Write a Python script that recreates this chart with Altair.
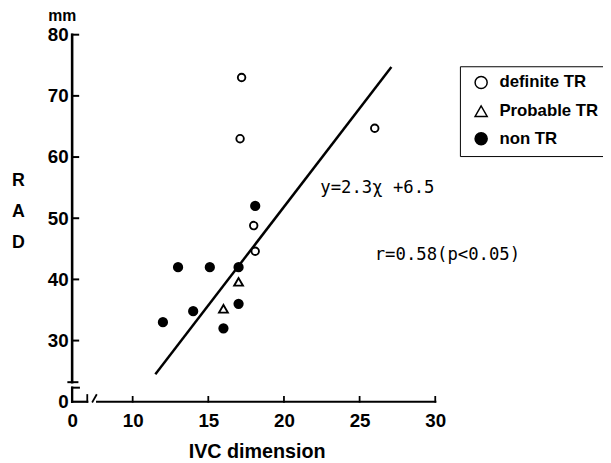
import altair as alt
import pandas as pd

# ---------------- data ----------------
groups = ["definite TR", "Probable TR", "non TR"]

definite_x = [17.2, 17.1, 26.0, 18.0, 18.1]
definite_y = [73.0, 63.0, 64.7, 48.8, 44.6]

probable_x = [17.0, 16.0]
probable_y = [39.6, 35.2]

non_x = [18.1, 13.0, 15.1, 17.0, 17.0, 14.0, 12.0, 16.0]
non_y = [52.0, 42.0, 42.0, 42.0, 36.0, 34.8, 33.0, 32.0]

fit_x = [11.5, 27.1]
fit_y = [24.5, 74.7]

x_ticks = [10, 15, 20, 25, 30]
y_ticks = [30, 40, 50, 60, 70, 80]

equation_text = "y=2.3χ +6.5"
corr_text = "r=0.58(p<0.05)"

# ---------------- tables ----------------
pts = pd.DataFrame({
    "x": definite_x + probable_x + non_x,
    "y": definite_y + probable_y + non_y,
    "group": [groups[0]] * len(definite_x) + [groups[1]] * len(probable_x) + [groups[2]] * len(non_x),
})
size_map = {groups[0]: 58, groups[1]: 80, groups[2]: 72}
pts["sz"] = pts["group"].map(size_map)

fit = pd.DataFrame({"x": fit_x, "y": fit_y})

# broken axes (domain starts: x at 6 shown as "0", y at 20 shown as "0")
X0, Y0, X1, Y1 = 6, 20, 30, 80
segs = [
    (X0, 23.2, X0, Y1, 2.6),        # y axis upper
    (5.75, 23.2, 6.35, 23.2, 2.0),  # break stroke
    (X0, Y0, X0, 22.3, 2.4),        # y axis lower bracket
    (X0, 22.3, 6.45, 22.3, 2.0),
    (X0, Y0, 7.0, Y0, 2.2),         # x axis left piece
    (7.0, Y0, 7.0, 21.1, 1.8),
    (7.35, Y0, 7.6, 21.1, 1.8),     # slash
    (7.65, Y0, X1, Y0, 2.2),        # x axis main
]
for v in y_ticks:
    segs.append((X0, v, 6.4, v, 2.0))
for v in x_ticks:
    segs.append((v, Y0, v, 20.8, 1.8))
seg = pd.DataFrame(segs, columns=["x", "y", "x2", "y2", "w"])

ann = pd.DataFrame({
    "x": [22.4, 26.0],
    "y": [54.9, 44.0],
    "t": [equation_text, corr_text],
})

# ---------------- scales & axes ----------------
xs = alt.Scale(domain=[X0, X1], nice=False, zero=False)
ys = alt.Scale(domain=[Y0, Y1], nice=False, zero=False)

tick_font = "Liberation Sans"
x_axis = alt.Axis(
    values=[X0] + x_ticks, labelExpr="datum.value == 6 ? '0' : datum.label",
    domain=False, ticks=False, tickSize=0, grid=False,
    labelFont=tick_font, labelFontSize=19, labelFontWeight="bold", labelColor="black",
    labelPadding=10, labelFlush=False,
    title="IVC dimension", titleFont="Liberation Sans", titleFontSize=20,
    titleFontWeight="bold", titleColor="black",
    titleX=187, titleY=50, titleAlign="center", titleBaseline="middle",
)
y_axis = alt.Axis(
    values=[Y0] + y_ticks, labelExpr="datum.value == 20 ? '0' : datum.label",
    domain=False, ticks=False, tickSize=0, grid=False,
    labelFont=tick_font, labelFontSize=19, labelFontWeight="bold", labelColor="black",
    labelPadding=4, labelFlush=False,
    title=["R", "A", "D"], titleAngle=0, titleFont="Liberation Sans", titleFontSize=18,
    titleFontWeight="bold", titleColor="black",
    titleX=-55, titleY=148, titleAlign="center", titleBaseline="middle",
    titleLineHeight=31.5,
)

legend = alt.Legend(
    title=None, orient="none", legendX=393, legendY=32,
    padding=8, symbolOffset=5, labelOffset=10, rowPadding=10,
    strokeColor="black", fillColor="white",
    symbolSize=150, symbolStrokeWidth=1.5, symbolStrokeColor="black",
    labelFont="Liberation Sans", labelFontSize=17, labelFontWeight="bold",
    labelColor="black",
)

axes_layer = alt.Chart(seg).mark_rule(color="black", strokeCap="square").encode(
    x=alt.X("x:Q", scale=xs, axis=x_axis),
    y=alt.Y("y:Q", scale=ys, axis=y_axis),
    x2="x2:Q", y2="y2:Q",
    strokeWidth=alt.StrokeWidth("w:Q", scale=None),
)

fit_layer = alt.Chart(fit).mark_line(color="black", strokeWidth=2.5).encode(
    x=alt.X("x:Q", scale=xs, axis=x_axis),
    y=alt.Y("y:Q", scale=ys, axis=y_axis),
)

pts_layer = alt.Chart(pts).mark_point(filled=True, strokeWidth=1.9, opacity=1, fillOpacity=1).encode(
    x=alt.X("x:Q", scale=xs, axis=x_axis),
    y=alt.Y("y:Q", scale=ys, axis=y_axis),
    shape=alt.Shape("group:N", scale=alt.Scale(domain=groups, range=["circle", "triangle-up", "circle"]), legend=legend),
    fill=alt.Fill("group:N", scale=alt.Scale(domain=groups, range=["white", "white", "black"]), legend=legend),
    stroke=alt.Stroke("group:N", scale=alt.Scale(domain=groups, range=["black", "black", "black"]), legend=legend),
    size=alt.Size("sz:Q", scale=None),
)

ann_layer = alt.Chart(ann).mark_text(
    align="left", baseline="middle", font="DejaVu Sans Mono", fontSize=17.5, color="black"
).encode(
    x=alt.X("x:Q", scale=xs, axis=x_axis),
    y=alt.Y("y:Q", scale=ys, axis=y_axis),
    text="t:N",
)

mm_layer = alt.Chart(pd.DataFrame({"t": ["mm"]})).mark_text(
    align="center", baseline="alphabetic", font="Liberation Sans", fontSize=16,
    fontWeight="bold", color="black"
).encode(x=alt.value(-10), y=alt.value(-14), text="t:N")

chart = alt.layer(axes_layer, fit_layer, pts_layer, ann_layer, mm_layer).properties(
    width=368, height=372,
    autosize=alt.AutoSizeParams(type="none"),
    padding={"left": 65, "top": 24, "right": 170, "bottom": 58},
    background="white",
).configure_view(stroke=None)

chart.save("out.html", embed_options={"renderer": "svg", "actions": False})
